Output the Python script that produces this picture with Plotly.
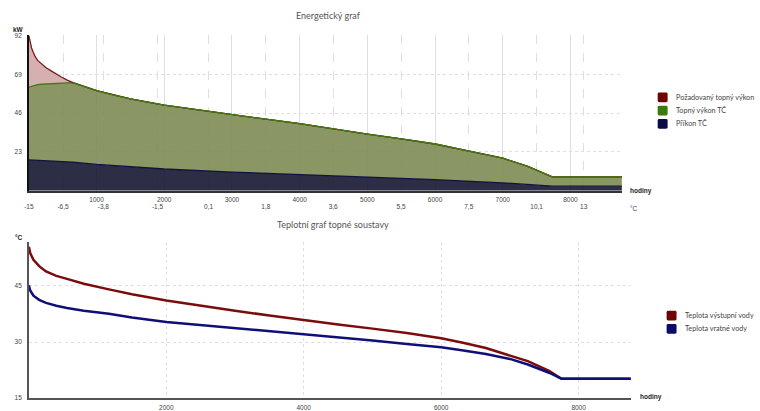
import plotly.graph_objects as go

W, H = 760, 411

# ---------------- data: energy chart ----------------
hours_demand = [0, 10, 20, 40, 65, 90, 130, 185, 250, 330, 400, 480, 560, 650,
                1000, 1250, 1500, 2000, 2500, 3000, 3500, 4000, 4500, 5000,
                5500, 6000, 6540, 7000, 7370, 7730, 8760]
demand_kw = [92, 89.5, 87.5, 84.6, 82.0, 79.7, 77.2, 75.2, 73.0, 71.0, 69.2, 67.4, 65.7, 64.1,
             59.3, 56.7, 54.4, 50.7, 47.8, 45.0, 42.4, 39.8, 36.6, 33.5,
             30.7, 27.7, 23.2, 19.3, 14.4, 8.2, 8.2]
hp_output_kw = [61.2, 61.5, 61.7, 61.9, 62.2, 62.6, 62.9, 63.1, 63.3, 63.5, 63.6, 63.8, 63.9, 64.1,
                59.3, 56.7, 54.4, 50.7, 47.8, 45.0, 42.4, 39.8, 36.6, 33.5,
                30.7, 27.7, 23.2, 19.3, 14.4, 8.2, 8.2]
hours_input = [0, 650, 1000, 1500, 2000, 3000, 4000, 5000, 6000, 7000, 7730, 8760]
input_kw = [18.3, 17.0, 15.6, 14.2, 12.9, 11.1, 9.6, 8.2, 6.6, 4.7, 2.7, 2.7]

hour_ticks = [1000, 2000, 3000, 4000, 5000, 6000, 7000, 8000]
temp_tick_hours = [0, 505, 1100, 1900, 2655, 3500, 4495, 5498, 6498, 7500, 8195]
temp_tick_labels = ["-15", "-6,5", "-3,8", "-1,5", "0,1", "1,8", "3,6", "5,5", "7,5", "10,1", "13"]
kw_ticks = [23, 46, 69, 92]

# ---------------- data: temperature chart ----------------
hours_temp = [0, 20, 67, 150, 250, 400, 555, 800, 1165, 1500, 2000, 2500, 3000, 3500,
              4000, 4500, 5000, 5500, 6000, 6300, 6650, 7000, 7260, 7570, 7750, 8760]
supply_c = [55.5, 53.8, 52.0, 50.3, 48.9, 47.7, 46.9, 45.6, 44.1, 42.8, 41.1, 39.7, 38.4, 37.1,
            35.8, 34.7, 33.6, 32.4, 31.0, 29.9, 28.4, 26.5, 24.9, 22.3, 20.2, 20.2]
return_c = [45.2, 43.8, 42.4, 41.3, 40.5, 39.7, 39.1, 38.4, 37.6, 36.6, 35.4, 34.6, 33.8, 33.0,
            32.1, 31.3, 30.4, 29.5, 28.6, 27.8, 26.8, 25.5, 24.0, 21.8, 20.2, 20.2]
temp_hour_ticks = [2000, 4000, 6000, 8000]
temp_ticks = [15, 30, 45]

legend_top = ["Požadovaný topný výkon", "Topný výkon TČ", "Příkon TČ"]
legend_top_colors = ["#6e0505", "#3b7a0c", "#0b0b45"]
legend_bot = ["Teplota výstupní vody", "Teplota vratné vody"]
legend_bot_colors = ["#6e0505", "#0b0b6e"]


def px(x):
    return x / W


def py(y):
    return 1 - y / H


TICKFONT = dict(family="Liberation Sans, Arial", size=6.5, color="#444")
TXTFONT = dict(family="Lato, sans-serif", size=7.2, color="#444")

fig = go.Figure()

fig.add_trace(go.Scatter(x=hours_input, y=input_kw, mode="lines", fill="tozeroy",
                         line=dict(color="#10133f", width=1.3), fillcolor="rgba(21,23,49,0.9)",
                         xaxis="x", yaxis="y", hoverinfo="skip"))
fig.add_trace(go.Scatter(x=hours_demand, y=hp_output_kw, mode="lines", fill="tonexty",
                         line=dict(color="#3f7d14", width=1.3), fillcolor="rgba(125,139,82,0.9)",
                         xaxis="x", yaxis="y", hoverinfo="skip"))
fig.add_trace(go.Scatter(x=hours_demand, y=demand_kw, mode="lines", fill="tonexty",
                         line=dict(color="#7b1a1a", width=1.3), fillcolor="rgba(209,167,167,0.9)",
                         xaxis="x", yaxis="y", hoverinfo="skip"))
fig.add_trace(go.Scatter(x=hours_demand[13:], y=hp_output_kw[13:], mode="lines",
                         line=dict(color="#3f7d14", width=1.3),
                         xaxis="x", yaxis="y", hoverinfo="skip"))
fig.add_trace(go.Scatter(x=hours_input, y=input_kw, mode="none",
                         xaxis="x2", yaxis="y", hoverinfo="skip"))

fig.add_trace(go.Scatter(x=hours_temp, y=supply_c, mode="lines",
                         line=dict(color="#7a0c0c", width=2.5),
                         xaxis="x3", yaxis="y3", hoverinfo="skip"))
fig.add_trace(go.Scatter(x=hours_temp, y=return_c, mode="lines",
                         line=dict(color="#0f0f78", width=2.5),
                         xaxis="x3", yaxis="y3", hoverinfo="skip"))

grid = "#dedee6"
fig.update_layout(
    width=W, height=H, margin=dict(l=0, r=0, t=0, b=0),
    paper_bgcolor="white", plot_bgcolor="white", showlegend=False,
    xaxis=dict(domain=[px(24), px(621)], range=[0, 8760], anchor="y",
               tickvals=hour_ticks, ticks="", tickfont=TICKFONT, ticklabelstandoff=2,
               showgrid=True, gridcolor=grid, gridwidth=1,
               showline=True, linecolor="#333", linewidth=1.5, zeroline=False),
    xaxis2=dict(overlaying="x", anchor="y", range=[0, 8760], side="bottom",
                tickvals=temp_tick_hours, ticktext=temp_tick_labels, ticks="",
                tickfont=TICKFONT, ticklabelstandoff=11,
                showgrid=True, gridcolor=grid, griddash="dash", gridwidth=1,
                showline=False, zeroline=False),
    yaxis=dict(domain=[py(190), py(32)], range=[0, 92], anchor="x",
               tickvals=kw_ticks, ticks="", tickfont=TICKFONT, ticklabelstandoff=4,
               showgrid=True, gridcolor=grid, griddash="dot",
               showline=True, linecolor="#111", linewidth=1.5, zeroline=False),
    xaxis3=dict(domain=[px(24), px(630)], range=[0, 8760], anchor="y3",
                tickvals=temp_hour_ticks, ticks="", tickfont=TICKFONT, ticklabelstandoff=2,
                showgrid=True, gridcolor=grid, griddash="dot",
                showline=True, linecolor="#555", linewidth=1.5, zeroline=False),
    yaxis3=dict(domain=[py(401), py(242)], range=[15, 56.8], anchor="x3",
                tickvals=temp_ticks, ticks="", tickfont=TICKFONT, ticklabelstandoff=4,
                showgrid=True, gridcolor=grid, griddash="dot",
                showline=True, linecolor="#555", linewidth=1.5, zeroline=False),
)

ann = []


def add_text(text, x, y, xanchor="center", bold=False, font=None):
    f = dict(font or TICKFONT)
    ann.append(dict(text=f"<b>{text}</b>" if bold else text, x=px(x), y=py(y),
                    xref="paper", yref="paper", xanchor=xanchor, yanchor="middle",
                    showarrow=False, font=f))


add_text("Energetický graf", 326, 12, font=dict(family="Lato, sans-serif", size=9, color="#555"))
add_text("Teplotní graf topné soustavy", 330, 224, font=dict(family="Lato, sans-serif", size=9, color="#555"))
add_text("kW", 14, 26, bold=True, font=dict(TICKFONT, color="#222"))
add_text("hodiny", 627, 190, xanchor="left", bold=True, font=dict(TICKFONT, color="#222"))
add_text("°C", 627, 208, xanchor="left")
add_text("°C", 14, 238, bold=True, font=dict(TICKFONT, color="#222"))
add_text("hodiny", 637, 400, xanchor="left", bold=True, font=dict(TICKFONT, color="#222"))

shapes = []


def rounded_rect(x0, y0, x1, y1, color, r=1.5):
    X0, X1 = px(x0), px(x1)
    Y0, Y1 = py(y0), py(y1)
    rx, ry = r / W, r / H
    path = (f"M {X0+rx},{Y0} L {X1-rx},{Y0} Q {X1},{Y0} {X1},{Y0-ry} "
            f"L {X1},{Y1+ry} Q {X1},{Y1} {X1-rx},{Y1} L {X0+rx},{Y1} "
            f"Q {X0},{Y1} {X0},{Y1+ry} L {X0},{Y0-ry} Q {X0},{Y0} {X0+rx},{Y0} Z")
    shapes.append(dict(type="path", path=path, xref="paper", yref="paper",
                       fillcolor=color, line=dict(width=0)))


for i, (lab, col) in enumerate(zip(legend_top, legend_top_colors)):
    yc = 95 + i * 13.5
    rounded_rect(657, yc - 5, 667, yc + 5, col)
    add_text(lab, 673, yc, xanchor="left", font=TXTFONT)

for i, (lab, col) in enumerate(zip(legend_bot, legend_bot_colors)):
    yc = 317 + i * 13.5
    rounded_rect(666, yc - 5, 676, yc + 5, col)
    add_text(lab, 682, yc, xanchor="left", font=TXTFONT)

fig.update_layout(annotations=ann, shapes=shapes)
fig.write_html("out.html", config={"displayModeBar": False},
               post_script="document.body.style.margin='0';")
